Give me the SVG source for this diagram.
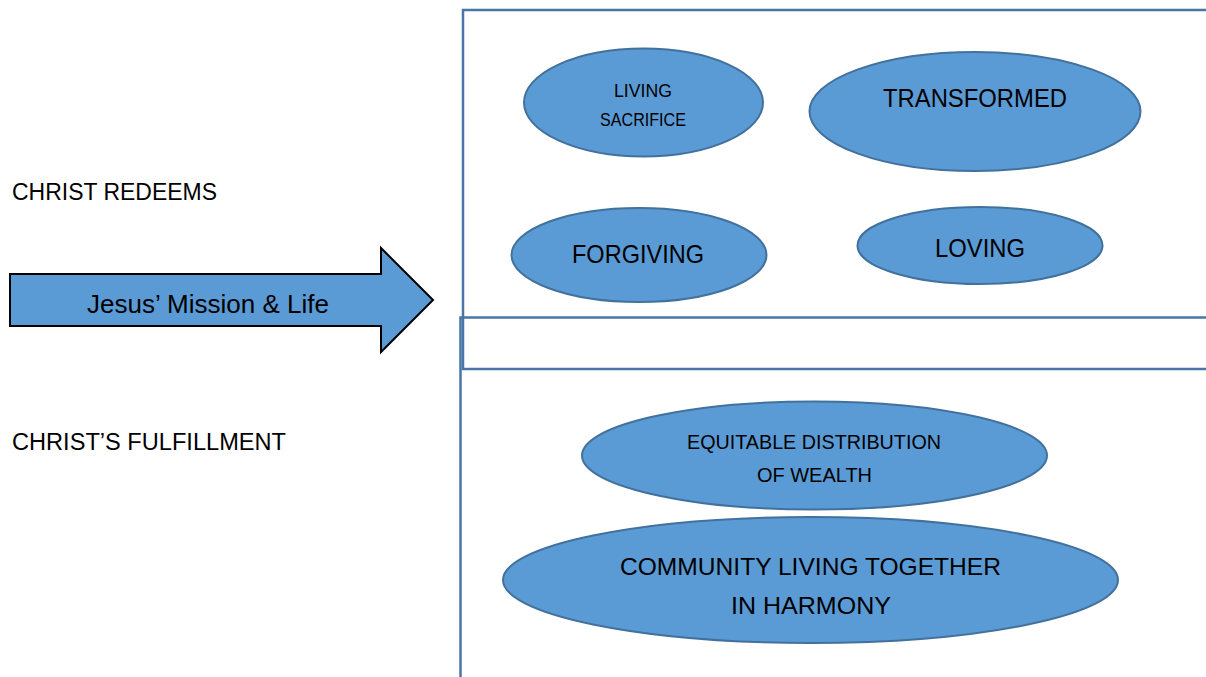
<svg xmlns="http://www.w3.org/2000/svg" width="1206" height="677" viewBox="0 0 1206 677">
<style>
text{font-family:"Liberation Sans",Arial,sans-serif;fill:#000;}
.n ellipse{fill:#5B9BD5;stroke:#41719C;stroke-width:2;}
.box{fill:none;stroke:#4A76A5;stroke-width:2.5;}
</style>
<rect width="1206" height="677" fill="#fff"/>
<g id="frames">
<rect class="box" x="463" y="10" width="760" height="359"/>
<rect class="box" x="460.5" y="317.5" width="760" height="380"/>
</g>
<g id="label-redeems"><text x="12" y="200" font-size="23" textLength="205" lengthAdjust="spacingAndGlyphs">CHRIST REDEEMS</text></g>
<g id="label-fulfillment"><text x="12" y="450" font-size="23" textLength="274" lengthAdjust="spacingAndGlyphs">CHRIST’S FULFILLMENT</text></g>
<g id="arrow">
<path d="M10,274 L381,274 L381,248 L433,300 L381,352 L381,326 L10,326 Z" fill="#5B9BD5" stroke="#000" stroke-width="2"/>
<text x="87" y="313" font-size="25" textLength="242" lengthAdjust="spacingAndGlyphs">Jesus’ Mission &amp; Life</text>
</g>
<g id="living-sacrifice" class="n">
<ellipse cx="643.5" cy="102.5" rx="119.5" ry="54"/>
<text x="643" y="97" font-size="19" text-anchor="middle" textLength="58" lengthAdjust="spacingAndGlyphs">LIVING</text>
<text x="643" y="126" font-size="19" text-anchor="middle" textLength="86" lengthAdjust="spacingAndGlyphs">SACRIFICE</text>
</g>
<g id="transformed" class="n">
<ellipse cx="975" cy="111.5" rx="165.5" ry="59.5"/>
<text x="975" y="107" font-size="25" text-anchor="middle" textLength="184" lengthAdjust="spacingAndGlyphs">TRANSFORMED</text>
</g>
<g id="forgiving" class="n">
<ellipse cx="639" cy="255" rx="127.5" ry="47"/>
<text x="638" y="263" font-size="25" text-anchor="middle" textLength="132" lengthAdjust="spacingAndGlyphs">FORGIVING</text>
</g>
<g id="loving" class="n">
<ellipse cx="980" cy="245.5" rx="122.5" ry="38.5"/>
<text x="980" y="257" font-size="25" text-anchor="middle" textLength="90" lengthAdjust="spacingAndGlyphs">LOVING</text>
</g>
<g id="equitable" class="n">
<ellipse cx="814.5" cy="455.5" rx="232.5" ry="54"/>
<text x="814" y="449" font-size="21" text-anchor="middle" textLength="254" lengthAdjust="spacingAndGlyphs">EQUITABLE DISTRIBUTION</text>
<text x="814.5" y="482" font-size="21" text-anchor="middle" textLength="115" lengthAdjust="spacingAndGlyphs">OF WEALTH</text>
</g>
<g id="community" class="n">
<ellipse cx="810.5" cy="580" rx="307.5" ry="63"/>
<text x="810.5" y="575" font-size="24" text-anchor="middle" textLength="381" lengthAdjust="spacingAndGlyphs">COMMUNITY LIVING TOGETHER</text>
<text x="811" y="614" font-size="24" text-anchor="middle" textLength="160" lengthAdjust="spacingAndGlyphs">IN HARMONY</text>
</g>
<g id="connectors"></g>
</svg>
